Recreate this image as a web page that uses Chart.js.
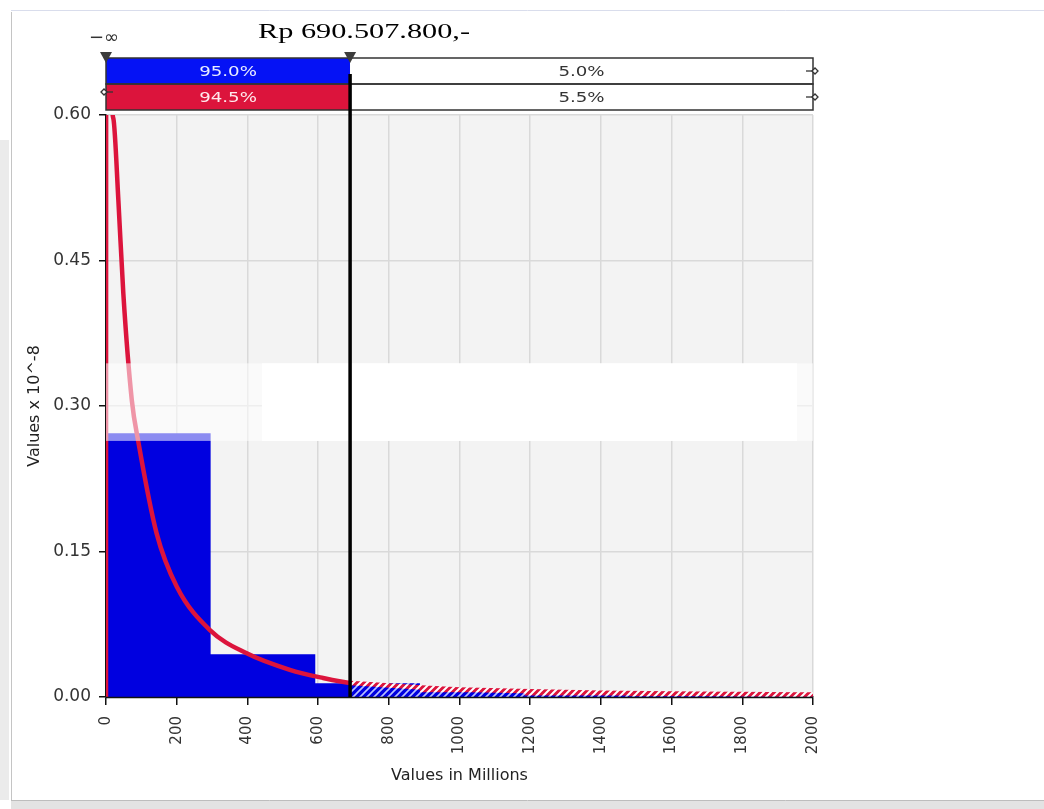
<!DOCTYPE html>
<html>
<head>
<meta charset="utf-8">
<script src="https://cdn.jsdelivr.net/npm/chart.js@4.4.1/dist/chart.umd.min.js"></script>
<style>
html,body{margin:0;padding:0;background:#fff;}
canvas{display:block;}
</style>
</head>
<body>
<canvas id="c" width="1044" height="809"></canvas>
<script>
// ---- data (values in millions on x, density x 10^-8 on y) ----
const binEdges   = [0, 296, 592, 888, 1184, 1480, 1776, 2072];
const binHeights = [0.272, 0.044, 0.0141, 0.005, 0.0015, 0.0008, 0.0005];
const curveX = [0, 2, 12, 21, 35, 49, 73, 92, 143, 200, 294, 398, 520, 614, 690.5, 727, 917, 1000, 1200, 1400, 1600, 1800, 2000];
const curveY = [0, 3, 0.68, 0.596, 0.512, 0.416, 0.306, 0.262, 0.169, 0.114, 0.069, 0.045, 0.028, 0.0196, 0.0144, 0.0136, 0.0092, 0.0078, 0.0058, 0.0045, 0.0036, 0.003, 0.0025];
const xTicks = [0, 200, 400, 600, 800, 1000, 1200, 1400, 1600, 1800, 2000];
const yTicks = [0, 0.15, 0.30, 0.45, 0.60];
const cutoff = 690.5078;
const cutoffLabel = 'Rp 690.507.800,-';
const leftLabel = '\u2212\u221e';
const leftShares  = ['95.0%', '94.5%'];
const rightShares = ['5.0%', '5.5%'];
const xTitle = 'Values in Millions';
const yTitle = 'Values x 10^-8';

// ---- styles ----
const BLUE = '#0000e0';
const HEAD_BLUE = '#0512f5';
const RED = '#dc143c';

function hatch(bg, fg, lw) {
  const s = 7;
  const c = document.createElement('canvas');
  c.width = s; c.height = s;
  const g = c.getContext('2d');
  g.fillStyle = bg; g.fillRect(0, 0, s, s);
  g.strokeStyle = fg; g.lineWidth = lw;
  g.beginPath();
  g.moveTo(-1, s + 1); g.lineTo(s + 1, -1);
  g.moveTo(-s / 2 - 1, s / 2 + 1); g.lineTo(s / 2 + 1, -s / 2 - 1);
  g.moveTo(s / 2 - 1, s * 1.5 + 1); g.lineTo(s * 1.5 + 1, s / 2 - 1);
  g.stroke();
  return g.createPattern(c, 'repeat');
}
const blueHatch = hatch(BLUE, '#b8c0ff', 1.6);
const redHatch = hatch(RED, '#ffffff', 2);

// build point lists from arrays (each bin starts at its left edge)
const curvePts = curveX.map((x, i) => ({x: x, y: curveY[i]}));
const histPts = [];
binHeights.forEach((h, i) => {
  histPts.push({x: binEdges[i], y: h});
  if (cutoff > binEdges[i] && cutoff < binEdges[i + 1]) histPts.push({x: cutoff, y: h});
});
histPts.push({x: binEdges[binEdges.length - 1], y: binHeights[binHeights.length - 1]});

const right = c => c.p0.parsed.x >= cutoff - 1;

function scaledText(ctx, text, x, y, font, color, align, sx) {
  ctx.save();
  ctx.font = font;
  ctx.fillStyle = color;
  ctx.textBaseline = 'middle';
  const w = ctx.measureText(text).width * sx;
  let left = x;
  if (align === 'center') left = x - w / 2;
  else if (align === 'right') left = x - w;
  ctx.translate(left, y);
  ctx.scale(sx, 1);
  ctx.textAlign = 'left';
  ctx.fillText(text, 0, 0);
  ctx.restore();
}

// overlay band (white patch seen in the picture)
const bandTop = 0.344, bandBottom = 0.264, boxFrom = 441, boxTo = 1955;

const decor = {
  id: 'decor',
  beforeDraw(chart) {
    const {ctx, chartArea: ca} = chart;
    ctx.save();
    ctx.fillStyle = '#fff';
    ctx.fillRect(0, 0, chart.width, chart.height);
    ctx.fillStyle = '#ebebeb';
    ctx.fillRect(0, 140, 9, 660);
    ctx.lineWidth = 1;
    ctx.strokeStyle = '#c4c4c4';
    ctx.beginPath(); ctx.moveTo(11.5, 12); ctx.lineTo(11.5, 800); ctx.stroke();
    ctx.strokeStyle = '#d9ddec';
    ctx.beginPath(); ctx.moveTo(11, 10.5); ctx.lineTo(1044, 10.5); ctx.stroke();
    ctx.fillStyle = '#e3e3e3';
    ctx.fillRect(11, 801, 1033, 8);
    ctx.strokeStyle = '#bdbdbd';
    ctx.beginPath(); ctx.moveTo(11, 800.5); ctx.lineTo(1044, 800.5); ctx.stroke();
    ctx.fillStyle = '#f3f3f3';
    ctx.fillRect(ca.left, ca.top, ca.right - ca.left, ca.bottom - ca.top);
    ctx.restore();
  },
  afterDatasetsDraw(chart) {
    const {ctx, chartArea: ca, scales: {x, y}} = chart;
    const xl = ca.left, xr = ca.right, xc = x.getPixelForValue(cutoff);
    ctx.save();
    // bottom axis line
    ctx.strokeStyle = '#111'; ctx.lineWidth = 1.5;
    ctx.beginPath(); ctx.moveTo(xl, ca.bottom + 0.5); ctx.lineTo(xr, ca.bottom + 0.5); ctx.stroke();
    // white band
    const by0 = y.getPixelForValue(bandTop), by1 = y.getPixelForValue(bandBottom);
    ctx.fillStyle = 'rgba(255,255,255,0.55)';
    ctx.fillRect(xl, by0, xr - xl, by1 - by0);
    ctx.fillStyle = '#ffffff';
    const bx0 = x.getPixelForValue(boxFrom), bx1 = x.getPixelForValue(boxTo);
    ctx.fillRect(bx0, by0, bx1 - bx0, by1 - by0);

    // header rows
    const rowH = 26;
    const r1 = ca.top - 57, r2 = r1 + rowH;
    ctx.fillStyle = HEAD_BLUE; ctx.fillRect(xl, r1, xc - xl, rowH);
    ctx.fillStyle = RED; ctx.fillRect(xl, r2, xc - xl, rowH);
    ctx.fillStyle = '#fff';
    ctx.fillRect(xc, r1, xr - xc, rowH); ctx.fillRect(xc, r2, xr - xc, rowH);
    ctx.strokeStyle = '#333'; ctx.lineWidth = 1.5;
    ctx.strokeRect(xl, r1, xr - xl, rowH);
    ctx.strokeRect(xl, r2, xr - xl, rowH);
    const font = '14px "DejaVu Sans"';
    scaledText(ctx, leftShares[0], (xl + xc) / 2, r1 + rowH / 2 + 1, font, '#e8ecff', 'center', 1.3);
    scaledText(ctx, leftShares[1], (xl + xc) / 2, r2 + rowH / 2 + 1, font, '#ffe8ec', 'center', 1.3);
    scaledText(ctx, rightShares[0], (xc + xr) / 2, r1 + rowH / 2 + 1, font, '#333', 'center', 1.3);
    scaledText(ctx, rightShares[1], (xc + xr) / 2, r2 + rowH / 2 + 1, font, '#333', 'center', 1.3);

    // end markers
    function marker(mx, my, dir) {
      ctx.strokeStyle = '#333'; ctx.lineWidth = 1.3;
      ctx.beginPath(); ctx.moveTo(mx - 7 * dir, my); ctx.lineTo(mx + 1 * dir, my); ctx.stroke();
      ctx.fillStyle = '#fff';
      ctx.beginPath();
      const cx = mx + 2 * dir;
      ctx.moveTo(cx - 3, my); ctx.lineTo(cx, my - 3); ctx.lineTo(cx + 3, my); ctx.lineTo(cx, my + 3); ctx.closePath();
      ctx.fill(); ctx.stroke();
    }
    marker(xr, r1 + rowH / 2, 1);
    marker(xr, r2 + rowH / 2, 1);
    marker(xl, r2 + rowH / 2 - 5, -1);

    // cutoff line
    ctx.strokeStyle = '#000'; ctx.lineWidth = 3.5;
    ctx.beginPath(); ctx.moveTo(xc, r1 + 16); ctx.lineTo(xc, ca.bottom); ctx.stroke();

    // triangles
    ctx.fillStyle = '#3c3c3c';
    [xl, xc].forEach(tx => {
      ctx.beginPath();
      ctx.moveTo(tx - 6, r1 - 6); ctx.lineTo(tx + 6, r1 - 6); ctx.lineTo(tx, r1 + 5); ctx.closePath();
      ctx.fill();
    });
    scaledText(ctx, leftLabel, xl - 2, r1 - 20, '18px "DejaVu Sans"', '#333', 'center', 1.0);

    // cutoff value label
    ctx.font = '22px "Liberation Serif"';
    const w = ctx.measureText(cutoffLabel).width;
    ctx.save();
    ctx.fillStyle = '#000';
    ctx.textBaseline = 'alphabetic';
    ctx.translate(258, 37.5);
    ctx.scale(212 / w, 1);
    ctx.fillText(cutoffLabel, 0, 0);
    ctx.restore();
    ctx.restore();
  }
};

const chart = new Chart(document.getElementById('c'), {
  type: 'line',
  data: {
    datasets: [
      {
        label: 'tail fill',
        data: curvePts,
        order: 4,
        fill: 'origin',
        backgroundColor: 'rgba(0,0,0,0)',
        borderColor: 'rgba(0,0,0,0)',
        borderWidth: 0,
        pointRadius: 0,
        cubicInterpolationMode: 'monotone',
        clip: 0,
        segment: { backgroundColor: c => right(c) ? redHatch : 'rgba(0,0,0,0)' }
      },
      {
        label: 'histogram',
        data: histPts,
        order: 3,
        stepped: 'before',
        fill: 'origin',
        backgroundColor: BLUE,
        borderColor: 'rgba(0,0,0,0)',
        borderWidth: 0,
        pointRadius: 0,
        clip: 0,
        segment: { backgroundColor: c => right(c) ? blueHatch : BLUE }
      },
      {
        label: 'curve',
        data: curvePts,
        order: 1,
        fill: false,
        borderColor: RED,
        borderWidth: 4.5,
        pointRadius: 0,
        cubicInterpolationMode: 'monotone',
        clip: 0,
        segment: { borderColor: c => right(c) ? redHatch : RED }
      }
    ]
  },
  options: {
    responsive: false,
    animation: false,
    events: [],
    layout: { padding: { left: 0, top: 115, right: 231, bottom: 0 } },
    plugins: { legend: { display: false }, tooltip: { enabled: false } },
    scales: {
      x: {
        type: 'linear',
        min: 0, max: 2000,
        afterFit: s => { s.height = 112; },
        afterBuildTicks: s => { s.ticks = xTicks.map(v => ({value: v})); },
        grid: { color: '#d9d9d9', lineWidth: 1.5, tickColor: '#111', tickLength: 8, tickWidth: 1.5 },
        border: { color: '#111', width: 1.5 },
        ticks: {
          autoSkip: false, maxRotation: 90, minRotation: 90, padding: 11,
          color: '#333', font: { family: 'DejaVu Sans', size: 15 },
          callback: v => String(v)
        },
        title: { display: true, text: xTitle, color: '#222', font: { family: 'DejaVu Sans', size: 16 }, padding: { top: 0, bottom: 24 } }
      },
      y: {
        min: 0, max: 0.6,
        afterFit: s => { s.width = 106; },
        afterBuildTicks: s => { s.ticks = yTicks.map(v => ({value: v})); },
        grid: { color: '#d9d9d9', lineWidth: 1.5, tickColor: '#111', tickLength: 7, tickWidth: 1.5 },
        border: { color: '#111', width: 1.5 },
        ticks: {
          padding: 8, color: '#333', font: { family: 'DejaVu Sans', size: 17 },
          callback: v => Number(v).toFixed(2)
        },
        title: { display: true, text: yTitle, color: '#222', font: { family: 'DejaVu Sans', size: 16 }, padding: { top: 25, bottom: 0 } }
      }
    }
  },
  plugins: [decor]
});
</script>
</body>
</html>
